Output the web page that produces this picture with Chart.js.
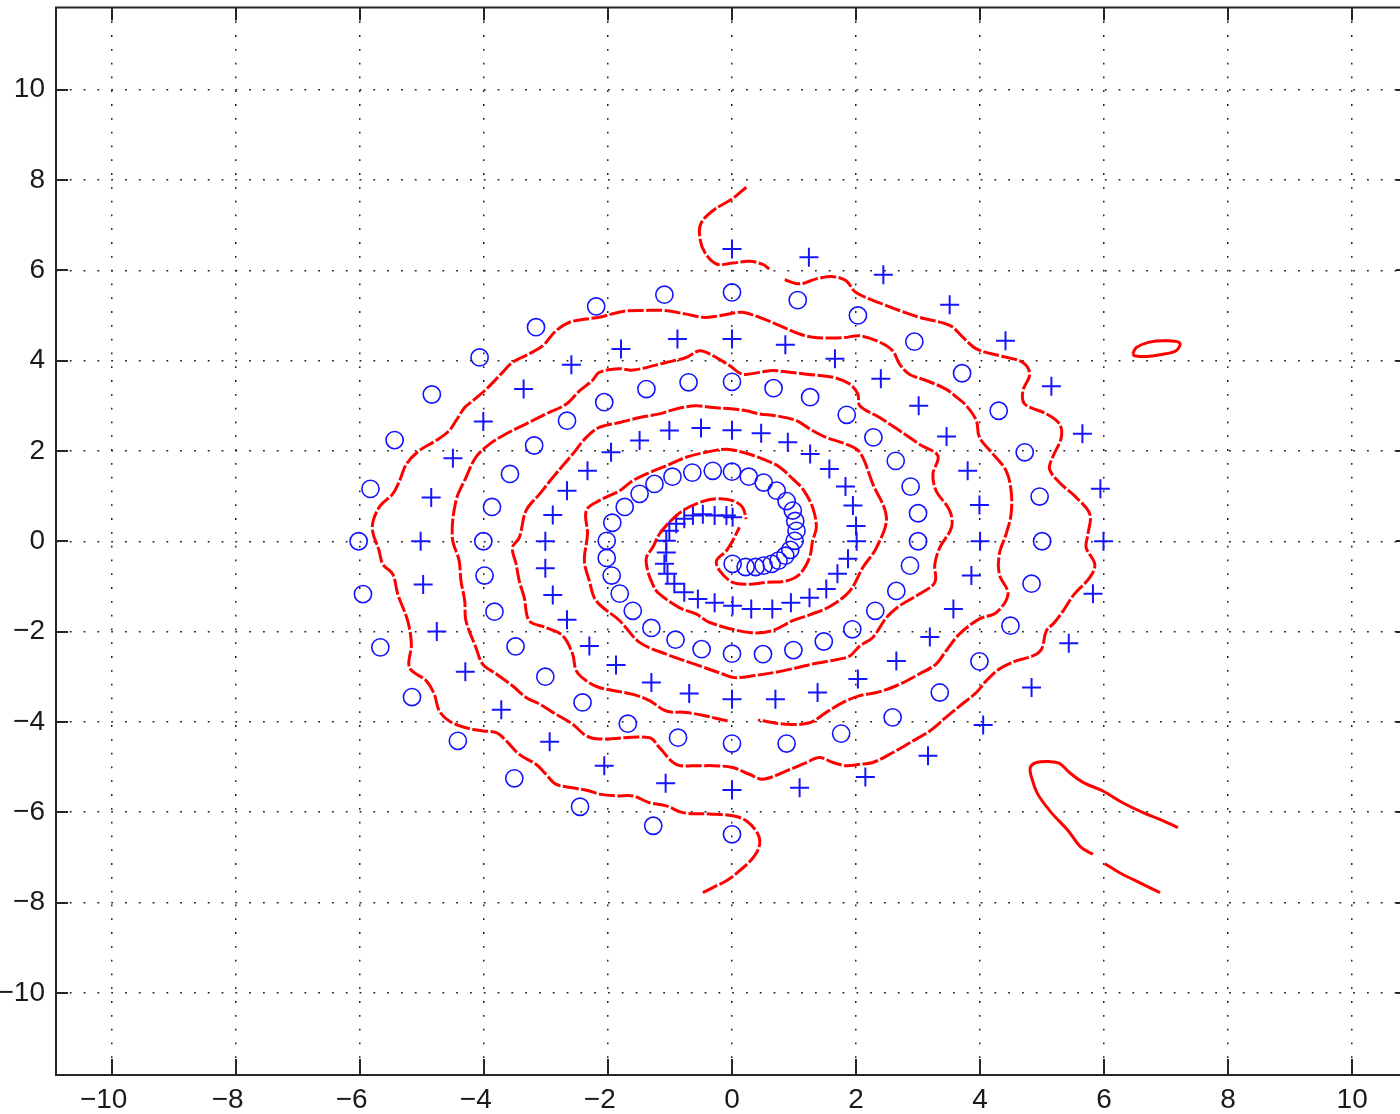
<!DOCTYPE html>
<html>
<head>
<meta charset="utf-8">
<script src="https://cdn.jsdelivr.net/npm/chart.js@4/dist/chart.umd.min.js"></script>
<style>
  html, body { margin: 0; padding: 0; background: #fff; overflow: hidden; }
  canvas { display: block; }
</style>
</head>
<body>
<canvas id="c" width="1420" height="1114"></canvas>
<script>
// Axis limits and tick values
const xLimits = [-10.9, 10.9];
const yLimits = [-11.82, 11.82];
const xTickValues = [-10, -8, -6, -4, -2, 0, 2, 4, 6, 8, 10];
const yTickValues = [-10, -8, -6, -4, -2, 0, 2, 4, 6, 8, 10];

// Class "o" samples (x, y)
const spiralCircles = [
  [0.00,-6.49],[-1.27,-6.30],[-2.45,-5.88],[-3.51,-5.25],[-4.42,-4.42],[-5.16,-3.45],[-5.67,-2.35],[-5.95,-1.17],
  [-6.02,0.00],[-5.83,1.16],[-5.44,2.24],[-4.84,3.25],[-4.07,4.07],[-3.16,4.74],[-2.19,5.20],[-1.09,5.46],
  [0.00,5.51],[1.06,5.34],[2.03,5.00],[2.94,4.42],[3.71,3.72],[4.30,2.89],[4.72,1.97],[4.96,0.99],
  [5.00,0.00],[4.83,-0.94],[4.49,-1.87],[3.99,-2.66],[3.35,-3.35],[2.59,-3.90],[1.76,-4.26],[0.88,-4.48],
  [0.00,-4.48],[-0.87,-4.35],[-1.68,-4.04],[-2.41,-3.57],[-3.01,-3.00],[-3.49,-2.33],[-3.83,-1.56],[-3.99,-0.76],
  [-4.01,0.00],[-3.87,0.76],[-3.58,1.49],[-3.19,2.12],[-2.66,2.67],[-2.06,3.08],[-1.38,3.37],[-0.70,3.52],
  [0.00,3.53],[0.67,3.39],[1.26,3.19],[1.85,2.80],[2.28,2.30],[2.64,1.78],[2.88,1.21],[3.00,0.62],
  [3.00,0.00],[2.87,-0.54],[2.65,-1.10],[2.31,-1.54],[1.94,-1.95],[1.48,-2.22],[0.99,-2.41],[0.50,-2.50],
  [0.00,-2.49],[-0.49,-2.39],[-0.91,-2.18],[-1.30,-1.92],[-1.60,-1.54],[-1.81,-1.16],[-1.94,-0.76],[-2.02,-0.37],
  [-2.02,0.01],[-1.93,0.41],[-1.73,0.76],[-1.49,1.05],[-1.25,1.27],[-0.96,1.43],[-0.64,1.52],[-0.31,1.56],
  [0.00,1.54],[0.27,1.43],[0.51,1.30],[0.72,1.12],[0.88,0.89],[0.98,0.68],[1.02,0.45],[1.04,0.23],
  [1.01,0.01],[0.94,-0.19],[0.86,-0.32],[0.75,-0.43],[0.64,-0.50],[0.51,-0.54],[0.38,-0.57],[0.22,-0.57],
  [0.01,-0.50]
];

// Class "+" samples (x, y)
const spiralPluses = [
  [0.00,6.47],[1.24,6.29],[2.44,5.90],[3.51,5.24],[4.41,4.44],[5.15,3.43],[5.65,2.38],[5.94,1.16],
  [5.99,0.00],[5.82,-1.16],[5.43,-2.26],[4.83,-3.24],[4.05,-4.07],[3.16,-4.75],[2.15,-5.22],[1.09,-5.46],
  [0.00,-5.51],[-1.07,-5.36],[-2.06,-4.97],[-2.94,-4.44],[-3.72,-3.73],[-4.30,-2.89],[-4.76,-2.00],[-4.98,-0.96],
  [-5.02,0.00],[-4.85,0.97],[-4.50,1.84],[-4.01,2.65],[-3.36,3.37],[-2.59,3.91],[-1.79,4.26],[-0.88,4.48],
  [0.00,4.48],[0.86,4.35],[1.66,4.04],[2.40,3.60],[3.01,3.00],[3.46,2.32],[3.80,1.56],[3.99,0.80],
  [4.00,0.00],[3.86,-0.76],[3.57,-1.50],[3.19,-2.12],[2.65,-2.65],[2.03,-3.05],[1.38,-3.35],[0.70,-3.50],
  [0.00,-3.50],[-0.69,-3.37],[-1.30,-3.13],[-1.87,-2.74],[-2.30,-2.32],[-2.66,-1.74],[-2.89,-1.19],[-3.01,-0.60],
  [-3.01,0.00],[-2.89,0.58],[-2.66,1.12],[-2.33,1.56],[-1.95,1.97],[-1.49,2.23],[-1.01,2.45],[-0.50,2.51],
  [0.00,2.46],[0.47,2.39],[0.90,2.19],[1.26,1.93],[1.57,1.60],[1.83,1.21],[1.95,0.79],[2.00,0.34],
  [2.01,0.00],[1.87,-0.39],[1.70,-0.72],[1.52,-1.06],[1.25,-1.25],[0.95,-1.36],[0.65,-1.50],[0.31,-1.50],
  [0.01,-1.43],[-0.28,-1.36],[-0.55,-1.28],[-0.77,-1.13],[-0.93,-0.94],[-1.04,-0.72],[-1.09,-0.50],[-1.06,-0.25],
  [-1.06,0.01],[-1.01,0.23],[-0.90,0.39],[-0.77,0.50],[-0.63,0.57],[-0.47,0.60],[-0.28,0.57],[-0.09,0.57],
  [0.01,0.53]
];

// Decision boundary, branch starting at the top tail (null marks a break)
const boundaryOuter = [
  [0.23,7.84],[0.01,7.59],[-0.31,7.32],[-0.50,7.04],[-0.52,6.73],[-0.44,6.40],[-0.25,6.14],[0.01,6.16],
  [0.28,6.20],[0.50,6.13],[0.60,6.03],null,
  [0.85,5.79],[1.09,5.70],[1.36,5.81],[1.63,5.86],[1.84,5.77],[2.00,5.51],[2.49,5.22],[3.02,4.96],
  [3.51,4.78],[3.72,4.52],[3.94,4.26],[4.31,4.11],[4.69,3.96],[4.80,3.70],[4.69,3.33],[4.72,3.04],
  [5.07,2.82],[5.28,2.60],[5.31,2.30],[5.17,1.86],[5.12,1.60],[5.28,1.30],[5.55,0.97],[5.77,0.60],
  [5.74,0.16],[5.71,-0.14],[5.85,-0.51],[5.77,-0.80],[5.52,-1.17],[5.34,-1.54],[5.20,-1.80],[5.07,-1.98],
  [4.99,-2.39],[4.85,-2.54],[4.58,-2.65],[4.31,-2.83],[4.10,-3.09],[3.94,-3.35],[3.67,-3.65],[3.45,-3.90],
  [3.19,-4.20],[2.92,-4.42],[2.54,-4.72],[2.27,-4.90],[2.06,-4.94],[1.84,-4.97],[1.63,-4.90],[1.41,-4.79],
  [1.20,-4.90],[0.87,-5.09],[0.50,-5.27],[0.28,-5.16],[0.01,-5.01],[-0.31,-4.97],[-0.52,-4.97],[-0.90,-4.94],
  [-1.17,-4.57],[-1.33,-4.35],[-2.14,-4.38],[-2.35,-4.31],[-2.57,-4.05],[-2.84,-3.83],[-3.10,-3.61],[-3.32,-3.46],
  [-3.54,-3.20],[-3.80,-2.94],[-4.02,-2.72],[-4.13,-2.35],[-4.29,-1.76],[-4.31,-1.32],[-4.37,-0.88],[-4.40,-0.43],
  [-4.51,0.08],[-4.45,0.90],[-4.29,1.41],[-4.13,1.86],[-3.91,2.15],[-3.64,2.38],[-3.32,2.60],[-3.00,2.82],
  [-2.67,3.04],[-2.46,3.33],[-2.25,3.56],[-2.14,3.74],[-1.81,3.82],[-1.60,3.79],[-1.06,3.96],[-0.74,4.07],
  [-0.52,4.22],[-0.31,4.11],[-0.04,3.89],[0.17,3.70],[0.44,3.74],[0.66,3.78],[0.93,3.74],[1.20,3.70],
  [1.63,3.63],[1.90,3.48],[2.03,3.26],[2.06,3.00],[2.38,2.74],[2.70,2.45],[3.02,2.15],[3.32,1.89],
  [3.24,1.49],[3.29,1.12],[3.51,0.68],[3.54,0.31],[3.35,-0.14],[3.27,-0.51],[3.27,-0.91],[3.02,-1.17],
  [2.70,-1.43],[2.49,-1.69],[2.27,-2.13],[2.06,-2.32],[1.90,-2.54],[1.73,-2.61],[1.30,-2.72],[0.82,-2.87],
  [0.34,-2.98],[0.04,-3.02],[-0.15,-2.94],[-0.52,-2.76],[-1.06,-2.50],[-1.49,-2.24],[-1.81,-1.76],[-2.19,-1.32],
  [-2.30,-0.88],[-2.38,-0.43],[-2.33,0.16],[-2.35,0.68],[-2.14,0.90],[-1.81,1.12],[-1.60,1.34],[-1.33,1.52],
  [-1.06,1.67],[-0.74,1.86],[-0.42,1.97],[-0.09,2.04],[0.17,1.97],[0.50,1.82],[0.77,1.64],[0.98,1.38],
  [1.14,1.16],[1.30,0.75],[1.36,0.31],[1.30,0.01],[1.25,-0.36],[1.09,-0.73],[0.87,-0.88],[0.55,-0.91],
  [0.28,-0.95],[0.01,-0.91],[-0.20,-0.65],[-0.25,-0.43],[-0.09,-0.21],[0.01,0.01],[0.12,0.31]
];

// Decision boundary, branch starting at the bottom tail
const boundaryInner = [
  [-0.47,-7.78],[-0.31,-7.67],[-0.09,-7.52],[0.12,-7.30],[0.34,-7.01],[0.44,-6.75],[0.42,-6.49],[0.23,-6.19],
  [0.01,-6.08],[-0.36,-6.04],[-0.79,-6.01],[-1.06,-5.86],[-1.33,-5.79],[-1.60,-5.64],[-1.87,-5.64],[-2.14,-5.60],
  [-2.30,-5.53],[-2.57,-5.46],[-2.84,-5.38],[-3.00,-5.16],[-3.16,-4.94],[-3.43,-4.72],[-3.64,-4.42],[-3.80,-4.24],
  [-4.02,-4.20],[-4.29,-4.13],[-4.56,-3.98],[-4.72,-3.76],[-4.80,-3.39],[-4.93,-3.09],[-5.20,-2.80],[-5.17,-2.28],
  [-5.23,-1.76],[-5.39,-1.17],[-5.47,-0.73],[-5.63,-0.51],[-5.69,-0.21],[-5.80,0.30],[-5.69,0.75],[-5.47,1.05],
  [-5.36,1.34],[-5.25,1.71],[-5.04,2.01],[-4.77,2.23],[-4.56,2.45],[-4.45,2.67],[-4.31,2.96],[-4.18,3.11],
  [-3.96,3.37],[-3.70,3.74],[-3.54,3.96],[-3.27,4.15],[-3.05,4.33],[-2.84,4.66],[-2.62,4.85],[-2.35,4.92],
  [-2.14,4.96],[-1.76,5.09],[-1.41,5.11],[-1.09,5.11],[-0.74,5.03],[-0.47,4.96],[-0.31,4.97],[0.01,5.05],
  [0.17,5.07],[0.44,4.96],[0.71,4.81],[1.09,4.59],[1.30,4.52],[1.55,4.50],[1.81,4.51],[2.06,4.55],
  [2.38,4.41],[2.59,4.22],[2.70,3.93],[2.86,3.70],[3.13,3.56],[3.45,3.37],[3.62,3.19],[3.78,3.00],
  [3.94,2.67],[3.99,2.30],[4.21,1.93],[4.42,1.56],[4.50,1.12],[4.50,0.60],[4.42,0.16],[4.31,-0.28],
  [4.31,-0.73],[4.45,-1.17],[4.26,-1.58],[3.99,-1.72],[3.67,-2.05],[3.45,-2.43],[3.29,-2.72],[3.02,-2.94],
  [2.65,-3.20],[2.33,-3.35],[2.06,-3.42],[1.79,-3.57],[1.52,-3.79],[1.25,-4.02],[0.87,-4.05],[0.42,-3.96],
  null,
  [-0.07,-3.98],[-0.42,-3.87],[-0.74,-3.79],[-1.06,-3.76],[-1.33,-3.53],[-1.60,-3.39],[-2.14,-3.24],[-2.35,-3.09],
  [-2.51,-2.87],[-2.57,-2.50],[-2.73,-2.09],[-3.00,-1.91],[-3.27,-1.76],[-3.35,-1.25],[-3.43,-0.88],[-3.48,-0.51],
  [-3.54,-0.14],[-3.43,0.08],[-3.32,0.68],[-3.10,1.05],[-2.89,1.41],[-2.57,1.93],[-2.35,2.30],[-2.14,2.52],
  [-1.81,2.63],[-1.49,2.74],[-1.17,2.82],[-0.90,2.93],[-0.58,3.00],[-0.31,2.96],[0.01,2.93],[0.23,2.89],
  [0.44,2.82],[0.71,2.78],[1.04,2.67],[1.25,2.49],[1.52,2.30],[1.84,2.15],[2.06,1.97],[2.27,1.27],
  [2.49,0.53],[2.33,-0.14],[2.11,-0.58],[1.90,-1.10],[1.57,-1.45],[1.25,-1.63],[0.98,-1.76],[0.65,-1.98],
  [0.28,-2.02],[-0.36,-1.80],[-0.58,-1.61],[-0.85,-1.47],[-1.20,-1.13],[-1.28,-0.95],[-1.36,-0.65],[-1.38,-0.36],
  [-1.28,-0.14],[-1.17,0.16],[-1.01,0.42],[-0.79,0.68],[-0.52,0.86],[-0.25,0.94],[0.01,0.90],[0.17,0.75],
  [0.23,0.49]
];

// Small closed island on the right
const boundaryLoop = [
  [6.46,4.15],[6.52,4.29],[6.73,4.41],[7.00,4.44],[7.22,4.39],[7.16,4.22],[6.90,4.13],[6.68,4.09],
  [6.49,4.11],[6.46,4.15]
];

// Hook in the lower right
const boundaryHook = [
  [7.19,-6.34],[6.90,-6.16],[6.63,-6.01],[6.30,-5.79],[5.98,-5.53],[5.66,-5.34],[5.44,-5.12],[5.28,-4.92],
  [5.12,-4.88],[4.91,-4.90],[4.81,-5.01],[4.83,-5.23],[4.93,-5.60],[5.15,-6.01],[5.42,-6.41],[5.63,-6.78],
  [5.82,-6.93],null,[6.01,-7.14],[6.25,-7.34],[6.57,-7.56],[6.90,-7.78]
];

const toPoints = arr => {
  let last = 0;
  return arr.map(p => {
    if (p === null) return { x: last, y: null };
    last = p[0];
    return { x: p[0], y: p[1] };
  });
};

const RED = 'rgb(255,0,0)';
const BLUE = 'rgb(20,20,255)';
const FONT = '"Liberation Sans", Arial, Helvetica, sans-serif';
const AXIS = '#262626';

const curveStyle = (data, dashed) => ({
  data: toPoints(data),
  showLine: true,
  borderColor: RED,
  borderWidth: 3,
  borderDash: dashed ? [16, 2.5] : [],
  borderCapStyle: 'butt',
  borderJoinStyle: 'round',
  pointRadius: 0,
  spanGaps: false,
  tension: 0.35,
  order: 1
});

// Frame, inward tick marks and x tick labels
const framePlugin = {
  id: 'frame',
  afterDraw(chart) {
    const { ctx, chartArea: a, scales: { x, y } } = chart;
    ctx.save();
    ctx.strokeStyle = AXIS;
    ctx.lineWidth = 2;
    ctx.setLineDash([]);
    ctx.strokeRect(a.left, a.top, a.right - a.left, a.bottom - a.top);
    ctx.beginPath();
    xTickValues.forEach(v => {
      const px = Math.round(x.getPixelForValue(v));
      ctx.moveTo(px, a.bottom); ctx.lineTo(px, a.bottom - 16);
      ctx.moveTo(px, a.top); ctx.lineTo(px, a.top + 13);
    });
    yTickValues.forEach(v => {
      const py = Math.round(y.getPixelForValue(v));
      ctx.moveTo(a.left, py); ctx.lineTo(a.left + 12, py);
      ctx.moveTo(a.right, py); ctx.lineTo(a.right - 12, py);
    });
    ctx.stroke();

    ctx.fillStyle = '#1a1a1a';
    ctx.font = '28px ' + FONT;
    ctx.textBaseline = 'middle';
    ctx.textAlign = 'left';
    xTickValues.forEach(v => {
      const px = x.getPixelForValue(v);
      const digits = String(Math.abs(v));
      const dw = ctx.measureText(digits).width;
      const text = v < 0 ? '\u2212' + digits : digits;
      const tw = ctx.measureText(text).width;
      ctx.fillText(text, px + dw / 2 - tw, 1100);
    });
    ctx.restore();
  }
};

new Chart(document.getElementById('c'), {
  type: 'scatter',
  data: {
    datasets: [
      curveStyle(boundaryOuter, true),
      curveStyle(boundaryInner, true),
      curveStyle(boundaryLoop, false),
      curveStyle(boundaryHook, false),
      {
        data: toPoints(spiralCircles),
        pointStyle: 'circle',
        pointRadius: 8.6,
        pointBorderWidth: 1.6,
        borderColor: BLUE,
        backgroundColor: 'rgba(0,0,0,0)',
        showLine: false,
        order: 2
      },
      {
        data: toPoints(spiralPluses),
        pointStyle: 'cross',
        pointRadius: 9.5,
        pointBorderWidth: 2,
        borderColor: BLUE,
        backgroundColor: BLUE,
        showLine: false,
        order: 2
      }
    ]
  },
  options: {
    responsive: false,
    devicePixelRatio: 1,
    animation: false,
    events: [],
    layout: { autoPadding: false, padding: { top: 7.5, right: 12, bottom: 0, left: 0 } },
    plugins: { legend: { display: false }, tooltip: { enabled: false } },
    scales: {
      x: {
        type: 'linear',
        min: xLimits[0],
        max: xLimits[1],
        afterBuildTicks: s => { s.ticks = xTickValues.map(v => ({ value: v })); },
        afterFit: s => { s.height = 39; s.paddingLeft = 0; s.paddingRight = 0; },
        ticks: { display: false },
        grid: { color: '#222', lineWidth: 1.5, drawTicks: false },
        border: { display: false, dash: [1.8, 12] }
      },
      y: {
        type: 'linear',
        min: yLimits[0],
        max: yLimits[1],
        afterBuildTicks: s => { s.ticks = yTickValues.map(v => ({ value: v })); },
        afterFit: s => { s.width = 56; s.paddingTop = 0; s.paddingBottom = 0; },
        ticks: {
          padding: 11,
          color: '#1a1a1a',
          font: { family: FONT, size: 28 },
          callback: v => (v < 0 ? '\u2212' + Math.abs(v) : String(v))
        },
        grid: { color: '#222', lineWidth: 1.5, drawTicks: false },
        border: { display: false, dash: [1.8, 12] }
      }
    }
  },
  plugins: [framePlugin]
});
</script>
</body>
</html>
